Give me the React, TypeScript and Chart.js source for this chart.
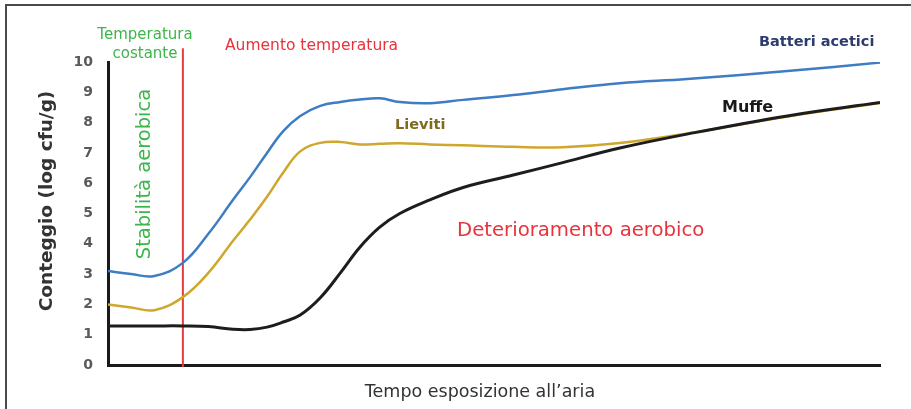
import React, { useEffect, useRef } from "react";
import { Chart, registerables } from "chart.js";

Chart.register(...registerables);

// Time of exposure to air (arbitrary units, 0–100)
const timePoints = [0, 3, 6, 9.7, 13, 16.2, 18.4, 20.6, 22.7, 24.9, 27.5, 30.1, 32.6, 35.2, 37.8, 41.7, 46, 52.5, 58.9, 66.3, 75, 88, 100];
// log cfu/g
const batteriAcetici = [3.1, 3.0, 2.94, 3.37, 4.33, 5.45, 6.2, 7.0, 7.72, 8.22, 8.55, 8.68, 8.76, 8.8, 8.68, 8.64, 8.75, 8.91, 9.1, 9.3, 9.44, 9.7, 9.98];
const lieviti = [2.0, 1.9, 1.81, 2.24, 3.04, 4.1, 4.8, 5.55, 6.35, 7.05, 7.33, 7.36, 7.28, 7.3, 7.32, 7.28, 7.25, 7.2, 7.19, 7.33, 7.64, 8.2, 8.65];
const muffe = [1.29, 1.29, 1.29, 1.29, 1.27, 1.18, 1.17, 1.25, 1.42, 1.65, 2.22, 3.04, 3.88, 4.55, 5.0, 5.45, 5.86, 6.27, 6.68, 7.16, 7.62, 8.22, 8.66];

// Vertical marker: temperature rise
const thresholdTime = 9.7;
const thresholdRange = [-0.07, 10.45];

const yMin = 0;
const yMax = 10;
const yStep = 1;

const seriesLabels = ["Batteri acetici", "Lieviti", "Muffe"];

const toPoints = (ys: number[]) => ys.map((y, i) => ({ x: timePoints[i], y }));

const FONT = "'DejaVu Sans', Verdana, sans-serif";

const annotationPlugin = {
  id: "annotations",
  afterDatasetsDraw(chart: any) {
    const ctx = chart.ctx as CanvasRenderingContext2D;
    const put = (
      text: string,
      x: number,
      y: number,
      font: string,
      color: string,
      align: CanvasTextAlign = "left",
      rot = 0
    ) => {
      ctx.save();
      ctx.translate(x, y);
      if (rot) ctx.rotate(rot);
      ctx.font = font;
      ctx.fillStyle = color;
      ctx.textAlign = align;
      ctx.textBaseline = "middle";
      ctx.fillText(text, 0, 0);
      ctx.restore();
    };
    const green = "#3db54a";
    const red = "#e8323c";
    put("Temperatura", 145, 35, `15px ${FONT}`, green, "center");
    put("costante", 145, 54, `15px ${FONT}`, green, "center");
    put("Aumento temperatura", 225, 46, `15.5px ${FONT}`, red, "left");
    put("Stabilità aerobica", 145, 174, `19.5px ${FONT}`, green, "center", -Math.PI / 2);
    put(seriesLabels[1], 395, 125, `bold 14.5px ${FONT}`, "#7d6b1e", "left");
    put(seriesLabels[0], 759, 42, `bold 14.5px ${FONT}`, "#2c3c6e", "left");
    put(seriesLabels[2], 722, 108, `bold 16px ${FONT}`, "#1a1a1a", "left");
    put("Deterioramento aerobico", 457, 231, `19.7px ${FONT}`, red, "left");
    // axis titles
    put("Conteggio (log cfu/g)", 47, 201, `bold 18.5px ${FONT}`, "#333333", "center", -Math.PI / 2);
    put("Tempo esposizione all’aria", 480, 392, `17.5px ${FONT}`, "#333333", "center");
  },
};

export default function App() {
  const canvasRef = useRef<HTMLCanvasElement | null>(null);

  useEffect(() => {
    const canvas = canvasRef.current;
    if (!canvas) return;
    const chart = new Chart(canvas, {
      type: "line",
      data: {
        datasets: [
          {
            label: seriesLabels[2],
            data: toPoints(muffe),
            borderColor: "#1d1d1d",
            borderWidth: 3,
            pointRadius: 0,
            tension: 0.4,
            order: 0,
          },
          {
            label: seriesLabels[1],
            data: toPoints(lieviti),
            borderColor: "#cfa72c",
            borderWidth: 2.5,
            pointRadius: 0,
            tension: 0.4,
            order: 1,
          },
          {
            label: seriesLabels[0],
            data: toPoints(batteriAcetici),
            borderColor: "#3e7cc4",
            borderWidth: 2.5,
            pointRadius: 0,
            tension: 0.4,
            order: 2,
          },
          {
            label: "Aumento temperatura",
            data: thresholdRange.map((y) => ({ x: thresholdTime, y })),
            borderColor: "#e63b43",
            borderWidth: 2,
            pointRadius: 0,
            tension: 0,
            clip: false as any,
            order: 3,
          },
        ],
      },
      options: {
        responsive: false,
        animation: false,
        devicePixelRatio: 1,
        layout: { padding: { top: 62, right: 31, bottom: 0, left: 0 } },
        plugins: {
          legend: { display: false },
          tooltip: { enabled: false },
          title: { display: false },
        },
        scales: {
          x: {
            type: "linear",
            min: 0,
            max: 100,
            ticks: { display: false },
            grid: { display: false },
            border: { display: true, color: "#1a1a1a", width: 3 },
            afterFit: (s: any) => {
              s.height = 44;
            },
          },
          y: {
            type: "linear",
            min: yMin,
            max: yMax,
            ticks: {
              stepSize: yStep,
              padding: 15,
              color: "#5a5a5a",
              font: { family: FONT, size: 14, weight: "bold" },
            },
            grid: { display: false, drawTicks: false },
            border: { display: true, color: "#1a1a1a", width: 3 },
            afterFit: (s: any) => {
              s.width = 108;
            },
          },
        },
      },
      plugins: [annotationPlugin],
    });
    return () => chart.destroy();
  }, []);

  return (
    <div style={{ position: "fixed", left: 0, top: 0, width: 911, height: 409, background: "#ffffff", overflow: "hidden" }}>
      <div
        style={{
          position: "absolute",
          left: 5,
          top: 4,
          width: 920,
          height: 420,
          borderLeft: "2px solid #4a4a4a",
          borderTop: "2px solid #4a4a4a",
          boxSizing: "border-box",
        }}
      />
      <canvas ref={canvasRef} width={911} height={409} style={{ position: "absolute", left: 0, top: 0 }} />
    </div>
  );
}
